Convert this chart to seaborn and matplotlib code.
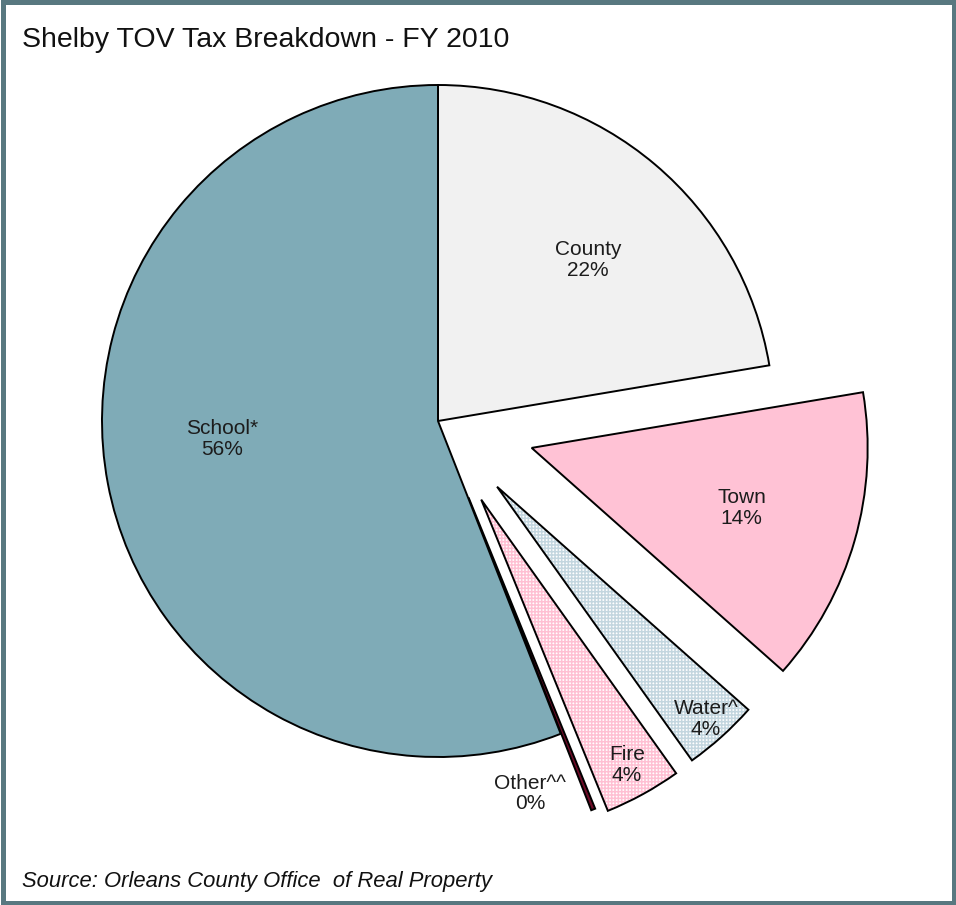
import matplotlib
matplotlib.use("Agg")
import matplotlib.pyplot as plt
from matplotlib.patches import Wedge, Rectangle
import numpy as np
import seaborn as sns

# Shelby (Town of) tax breakdown, FY 2010, share of the levy in percent
categories = ["County", "Town", "Water^", "Fire", "Other^^", "School*"]
shares = [22.35, 14.2, 3.6, 3.7, 0.2, 55.95]

title = "Shelby TOV Tax Breakdown - FY 2010"
source = "Source: Orleans County Office  of Real Property"

# styling
sns.set_style("white")
plt.rcParams["font.family"] = ["Liberation Sans", "DejaVu Sans"]
plt.rcParams["hatch.linewidth"] = 1.1

palette = sns.color_palette(["#F1F1F1", "#FFC2D5", "#FFFFFF", "#FFFFFF", "#6E0C28", "#7FABB7"])
hatch_colors = [None, None, "#C3D6DF", "#FFC0D3", None, None]
explode = [0, 0.29, 0.263, 0.267, 0.245, 0]
label_dist = [0.655, 0.65, 0.93, 0.90, 0.90, 0.646]
label_turn = [-2.8, 0, 0, 0, -10, -5.9]

W, H = 956, 905
R_PX = 336.0
CX, CY = 438.0, 421.0  # pie centre, pixels from top-left

fig = plt.figure(figsize=(W / 100, H / 100), dpi=100)
ax = fig.add_axes([0, 0, 1, 1])

wedges, _ = ax.pie(
    shares,
    explode=explode,
    colors=palette,
    startangle=90,
    counterclock=False,
    radius=1.0,
    wedgeprops=dict(edgecolor="black", linewidth=1.4),
)

# checkered fill for the water and fire districts
for w, hc in zip(wedges, hatch_colors):
    if hc is None:
        continue
    fill = Wedge(w.center, w.r, w.theta1, w.theta2, facecolor="white",
                 edgecolor=hc, hatch="+++++", linewidth=0,
                 zorder=w.get_zorder() - 0.01)
    ax.add_patch(fill)
    w.set_facecolor("none")

# category name and rounded share inside each slice
for w, name, val, d, turn in zip(wedges, categories, shares, label_dist, label_turn):
    ang = np.deg2rad((w.theta1 + w.theta2) / 2 + turn)
    x = w.center[0] + d * w.r * np.cos(ang)
    y = w.center[1] + d * w.r * np.sin(ang)
    ax.text(x, y, f"{name}\n{val:.0f}%", ha="center", va="center",
            fontsize=15, color="#1c1c1c", linespacing=1.12)

ax.set_xlim(-CX / R_PX, (W - CX) / R_PX)
ax.set_ylim(-(H - CY) / R_PX, CY / R_PX)
ax.set_aspect("auto")
ax.axis("off")

fig.text(22 / W, 1 - 47 / H, title, ha="left", va="baseline",
         fontsize=20.5, color="#111111")
fig.text(22 / W, 1 - 887 / H, source, ha="left", va="baseline",
         fontsize=15.8, style="italic", color="#111111")

# frame around the whole figure
fig.add_artist(Rectangle((2.5 / W, 2.5 / H), 1 - 5 / W, 1 - 5 / H,
                         transform=fig.transFigure, fill=False,
                         edgecolor="#587880", linewidth=3.6))

fig.savefig("out.png", dpi=100)
